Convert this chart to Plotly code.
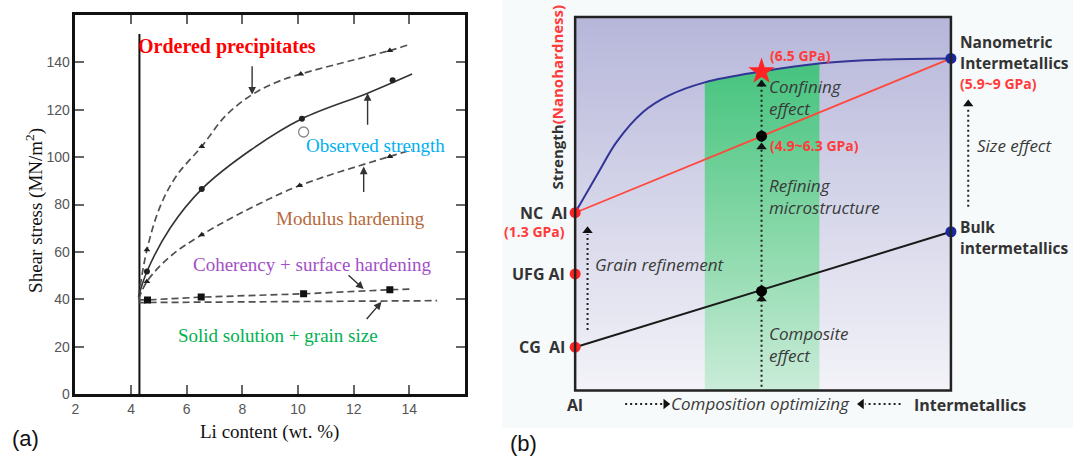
import plotly.graph_objects as go

# ---------------- Panel (a) data ----------------
li_ordered_curve = [4.27, 4.57, 5.05, 5.65, 6.54, 7.4, 8.35, 9.2, 10.1, 13.3, 14.0]
tau_ordered_curve = [41, 60.9, 79.3, 92.4, 104.5, 117.5, 126.4, 131.5, 135.1, 145, 147.5]
li_ordered_pts = [4.57, 6.54, 10.1, 13.3]
tau_ordered_pts = [60.9, 104.5, 135.1, 145]

li_obs_curve = [4.27, 4.57, 5.4, 6.54, 8.3, 10.14, 12.5, 14.1]
tau_obs_curve = [41.1, 51.7, 70, 86.5, 103, 116.2, 127, 135.1]
li_obs_pts = [4.57, 6.54, 10.14, 13.4]
tau_obs_pts = [51.7, 86.5, 116.2, 132.5]

li_open = [10.2]
tau_open = [110.6]

li_mod_curve = [4.27, 4.57, 5.4, 6.54, 8.3, 10.06, 13.3, 14.1]
tau_mod_curve = [40, 47.5, 58, 67.2, 78.5, 88, 100.3, 103.1]
li_mod_pts = [4.57, 6.54, 10.06, 13.3]
tau_mod_pts = [47.5, 67.2, 88, 100.3]

li_coh_curve = [4.27, 4.59, 6.52, 10.2, 13.3, 14.1]
tau_coh_curve = [39.7, 39.7, 40.9, 42.3, 44, 44.3]
li_coh_pts = [4.59, 6.52, 10.2, 13.3]
tau_coh_pts = [39.7, 40.9, 42.3, 44]

li_ss = [4.27, 15.0]
tau_ss = [38.6, 39.4]

li_boundary = [4.3, 4.3]
tau_boundary = [0, 152]

# arrows: (tail_x, tail_y, tip_x, tip_y)
arrows_a = [
    (8.35, 139, 8.35, 126.4),
    (12.5, 113, 12.5, 127),
    (12.36, 84.6, 12.36, 96),
    (11.76, 50.7, 12.36, 44.3),
    (12.42, 31, 13.0, 38.9),
]

labels_a = [
    ("<b>Ordered precipitates</b>", 4.19, 146.6, "#ff0000", 20),
    ("Observed strength", 10.21, 104.7, "#00b0f0", 19),
    ("Modulus hardening", 9.15, 74.3, "#b5693a", 19),
    ("Coherency + surface hardening", 6.16, 54.5, "#a24fc8", 19),
    ("Solid solution + grain size", 5.6, 24.5, "#00b050", 19),
]

x_ticks_a = [2, 4, 6, 8, 10, 12, 14]
y_ticks_a = [0, 20, 40, 60, 80, 100, 120, 140]

# ---------------- Panel (b) data (normalised schematic units) ----------------
al_y = {"NC": 0.476, "UFG": 0.312, "CG": 0.116}
inter_y = {"Nano": 0.889, "Bulk": 0.425}
mid_x = 0.496

red_line_x = [0, 1]
red_line_y = [0.476, 0.889]
black_line_x = [0, 1]
black_line_y = [0.116, 0.425]

blue_x = [0, 0.06, 0.11, 0.18, 0.25, 0.345, 0.496, 0.654, 0.82, 1]
blue_y = [0.476, 0.58, 0.665, 0.745, 0.79, 0.825, 0.854, 0.876, 0.886, 0.889]

band_x = [0.345, 0.345, 0.42, 0.496, 0.57, 0.65, 0.65]
band_y = [0, 0.825, 0.842, 0.854, 0.866, 0.876, 0]

mid_dots_y = [0.681, 0.266]
star_y = [0.854]

mid_arrow_y = [0.01, 0.83]
mid_tips_y = [0.256, 0.663, 0.831]
grain_arrow = (0.033, 0.162, 0.439)
size_arrow = (1.046, 0.492, 0.778)
bottom_y = -0.036
left_arrow = (0.133, 0.252)
right_arrow = (0.866, 0.751)

H = 466  # the page is photographed slightly squeezed vertically

fig = go.Figure()

# ---------- panel (a) traces ----------
dash_style = dict(color="#505050", width=1.7, dash="7px,4px")
fig.add_trace(go.Scatter(x=li_boundary, y=tau_boundary, mode="lines",
                         line=dict(color="#111111", width=2), xaxis="x", yaxis="y"))
fig.add_trace(go.Scatter(x=li_ss, y=tau_ss, mode="lines", line=dash_style, xaxis="x", yaxis="y"))
fig.add_trace(go.Scatter(x=li_coh_curve, y=tau_coh_curve, mode="lines", line=dash_style, xaxis="x", yaxis="y"))
fig.add_trace(go.Scatter(x=li_mod_curve, y=tau_mod_curve, mode="lines", line_shape="spline",
                         line=dash_style, xaxis="x", yaxis="y"))
fig.add_trace(go.Scatter(x=li_ordered_curve, y=tau_ordered_curve, mode="lines", line_shape="spline",
                         line=dash_style, xaxis="x", yaxis="y"))
fig.add_trace(go.Scatter(x=li_obs_curve, y=tau_obs_curve, mode="lines", line_shape="spline",
                         line=dict(color="#333333", width=1.6), xaxis="x", yaxis="y"))
fig.add_trace(go.Scatter(x=li_ordered_pts, y=tau_ordered_pts, mode="markers",
                         marker=dict(symbol="triangle-up", size=6, color="#222"), xaxis="x", yaxis="y"))
fig.add_trace(go.Scatter(x=li_mod_pts, y=tau_mod_pts, mode="markers",
                         marker=dict(symbol="triangle-up", size=6, color="#222"), xaxis="x", yaxis="y"))
fig.add_trace(go.Scatter(x=li_obs_pts, y=tau_obs_pts, mode="markers",
                         marker=dict(symbol="circle", size=6, color="#222"), xaxis="x", yaxis="y"))
fig.add_trace(go.Scatter(x=li_coh_pts, y=tau_coh_pts, mode="markers",
                         marker=dict(symbol="square", size=7, color="#111"), xaxis="x", yaxis="y"))
fig.add_trace(go.Scatter(x=li_open, y=tau_open, mode="markers",
                         marker=dict(symbol="circle-open", size=10, color="#888", line=dict(width=1.3)),
                         xaxis="x", yaxis="y"))

annotations = []
for tx, ty, hx, hy in arrows_a:
    annotations.append(dict(x=hx, y=hy, ax=tx, ay=ty, xref="x", yref="y", axref="x", ayref="y",
                            text="", showarrow=True, arrowhead=2, arrowsize=1.1, arrowwidth=1.4,
                            arrowcolor="#333"))
for txt, lx, ly, col, fs in labels_a:
    annotations.append(dict(x=lx, y=ly, xref="x", yref="y", text=txt, showarrow=False,
                            xanchor="left", yanchor="middle",
                            font=dict(family="Liberation Serif", size=fs, color=col)))
annotations.append(dict(x=266.7 / 1073, y=(458 - 431.7) / 458, xref="paper", yref="paper",
                        text="Li content (wt. %)", showarrow=False, xanchor="center", yanchor="middle",
                        font=dict(family="Liberation Serif", size=19, color="#111")))
annotations.append(dict(x=31 / 1073, y=(458 - 210) / 458, xref="paper", yref="paper",
                        text="Shear stress (MN/m<sup>2</sup>)", showarrow=False, textangle=-90,
                        xanchor="center", yanchor="middle",
                        font=dict(family="Liberation Serif", size=19, color="#111")))
annotations.append(dict(x=22 / 1073, y=(458 - 438) / 458, xref="paper", yref="paper",
                        text="(a)", showarrow=False, xanchor="center", yanchor="middle",
                        font=dict(family="Liberation Sans", size=22, color="#111")))
annotations.append(dict(x=521 / 1073, y=(458 - 443) / 458, xref="paper", yref="paper",
                        text="(b)", showarrow=False, xanchor="center", yanchor="middle",
                        font=dict(family="Liberation Sans", size=22, color="#111")))

# ---------- panel (b) traces ----------
fig.add_trace(go.Scatter(x=[0, 1, 1, 0, 0], y=[0, 0, 1, 1, 0], mode="lines", fill="toself",
                         line=dict(width=0),
                         fillgradient=dict(type="vertical", start=0, stop=1,
                                           colorscale=[[0, "rgb(244,244,249)"], [0.5, "rgb(214,214,234)"],
                                                       [1, "rgb(182,182,218)"]]),
                         xaxis="x2", yaxis="y2"))
fig.add_trace(go.Scatter(x=band_x, y=band_y, mode="lines", fill="toself", line=dict(width=0),
                         fillgradient=dict(type="vertical", start=0, stop=0.86,
                                           colorscale=[[0, "rgb(205,237,219)"], [0.5, "rgb(135,216,168)"],
                                                       [1, "rgb(72,196,128)"]]),
                         xaxis="x2", yaxis="y2"))

dot_line = dict(color="#222222", width=2, dash="2px,3px")
fig.add_trace(go.Scatter(x=[mid_x, mid_x], y=mid_arrow_y, mode="lines", line=dot_line, xaxis="x2", yaxis="y2"))
gx, gy0, gy1 = grain_arrow
fig.add_trace(go.Scatter(x=[gx, gx], y=[gy0, gy1 - 0.02], mode="lines", line=dot_line, xaxis="x2", yaxis="y2"))
sx, sy0, sy1 = size_arrow
fig.add_trace(go.Scatter(x=[sx, sx], y=[sy0, sy1 - 0.02], mode="lines", line=dot_line, xaxis="x2", yaxis="y2"))
fig.add_trace(go.Scatter(x=[left_arrow[0], left_arrow[1] - 0.02], y=[bottom_y, bottom_y], mode="lines",
                         line=dot_line, xaxis="x2", yaxis="y2"))
fig.add_trace(go.Scatter(x=[right_arrow[0], right_arrow[1] + 0.02], y=[bottom_y, bottom_y], mode="lines",
                         line=dot_line, xaxis="x2", yaxis="y2"))

up_tips_x = [mid_x] * len(mid_tips_y) + [gx, sx]
up_tips_y = [t - 0.011 for t in mid_tips_y] + [gy1 - 0.011, sy1 - 0.011]
fig.add_trace(go.Scatter(x=up_tips_x, y=up_tips_y, mode="markers",
                         marker=dict(symbol="triangle-up", size=9, color="#111"), xaxis="x2", yaxis="y2"))
fig.add_trace(go.Scatter(x=[left_arrow[1] - 0.011], y=[bottom_y], mode="markers",
                         marker=dict(symbol="triangle-right", size=9, color="#111"), xaxis="x2", yaxis="y2"))
fig.add_trace(go.Scatter(x=[right_arrow[1] + 0.011], y=[bottom_y], mode="markers",
                         marker=dict(symbol="triangle-left", size=9, color="#111"), xaxis="x2", yaxis="y2"))

fig.add_trace(go.Scatter(x=black_line_x, y=black_line_y, mode="lines",
                         line=dict(color="#1a1a1a", width=2), xaxis="x2", yaxis="y2"))
fig.add_trace(go.Scatter(x=red_line_x, y=red_line_y, mode="lines",
                         line=dict(color="rgb(255,72,60)", width=1.8), xaxis="x2", yaxis="y2"))
fig.add_trace(go.Scatter(x=blue_x, y=blue_y, mode="lines", line_shape="spline",
                         line=dict(color="rgb(50,52,150)", width=2), xaxis="x2", yaxis="y2"))

fig.add_trace(go.Scatter(x=[0, 0, 0], y=[al_y["NC"], al_y["UFG"], al_y["CG"]], mode="markers",
                         marker=dict(size=11, color="rgb(255,35,35)"), cliponaxis=False,
                         xaxis="x2", yaxis="y2"))
fig.add_trace(go.Scatter(x=[1, 1], y=[inter_y["Nano"], inter_y["Bulk"]], mode="markers",
                         marker=dict(size=11, color="rgb(28,40,160)"), xaxis="x2", yaxis="y2"))
fig.add_trace(go.Scatter(x=[mid_x, mid_x], y=mid_dots_y, mode="markers",
                         marker=dict(size=11, color="#000"), xaxis="x2", yaxis="y2"))
fig.add_trace(go.Scatter(x=[mid_x], y=star_y, mode="markers",
                         marker=dict(symbol="star", size=20, color="rgb(255,35,35)"), xaxis="x2", yaxis="y2"))

FB = "Open Sans"
dark = "#333333"
red = "#ff3b3b"
ital = "#3a3a3a"
labels_b = [
    ("<b>NC  Al</b>", -0.0175, 0.476, "right", dark, 16),
    ("<b>(1.3 GPa)</b>", -0.022, 0.425, "right", red, 14),
    ("<b>UFG Al</b>", -0.022, 0.312, "right", dark, 16),
    ("<b>CG  Al</b>", -0.022, 0.116, "right", dark, 16),
    ("<b>Al</b>", 0.0, -0.039, "center", dark, 16),
    ("<b>Intermetallics</b>", 1.052, -0.039, "center", dark, 16),
    ("<i>Composition optimizing</i>", 0.25, -0.036, "left", ital, 17),
    ("<b>Nanometric</b>", 1.018, 0.934, "left", dark, 15.5),
    ("<b>Intermetallics</b>", 1.018, 0.876, "left", dark, 15.5),
    ("<b>(5.9~9 GPa)</b>", 1.018, 0.822, "left", red, 14),
    ("<i>Size effect</i>", 1.064, 0.655, "left", ital, 17),
    ("<b>Bulk</b>", 1.018, 0.439, "left", dark, 15.5),
    ("<b>intermetallics</b>", 1.018, 0.381, "left", dark, 15.5),
    ("<b>(6.5 GPa)</b>", 0.513, 0.896, "left", red, 14),
    ("<i>Confining<br>effect</i>", 0.511, 0.7845, "left", ital, 17),
    ("<b>(4.9~6.3 GPa)</b>", 0.513, 0.657, "left", red, 14),
    ("<i>Refining<br>microstructure</i>", 0.511, 0.519, "left", ital, 17),
    ("<i>Grain refinement</i>", 0.047, 0.338, "left", ital, 17),
    ("<i>Composite<br>effect</i>", 0.511, 0.123, "left", ital, 17),
]
for txt, lx, ly, anc, col, fs in labels_b:
    annotations.append(dict(x=lx, y=ly, xref="x2", yref="y2", text=txt, showarrow=False, align="left",
                            xanchor=anc, yanchor="middle", font=dict(family=FB, size=fs, color=col)))
annotations.append(dict(x=-0.0485, y=0.787, xref="x2", yref="y2", textangle=-90,
                        text="<b>Strength<span style='color:#ff3b3b'>(Nanohardness)</span></b>",
                        showarrow=False, xanchor="center", yanchor="middle",
                        font=dict(family=FB, size=15, color=dark)))

shapes = [
    dict(type="rect", xref="paper", yref="paper", x0=500 / 1073, x1=1, y0=(458 - 428) / 458, y1=1,
         fillcolor="rgb(247,250,250)", line=dict(width=0), layer="below"),
    dict(type="rect", xref="x2", yref="y2", x0=0, x1=1, y0=0, y1=1,
         line=dict(color="#222", width=2.5), fillcolor="rgba(0,0,0,0)", layer="above"),
]

axis_common = dict(showgrid=False, zeroline=False, showline=True, linecolor="#111", linewidth=2.5,
                   mirror="ticks", ticks="inside", ticklen=9, tickwidth=1.5, tickcolor="#666",
                   tickfont=dict(family="Liberation Sans", size=14, color="#555"))

fig.update_layout(
    width=1073, height=H, autosize=False, margin=dict(l=0, r=0, t=0, b=0),
    paper_bgcolor="white", plot_bgcolor="rgba(0,0,0,0)", showlegend=False,
    xaxis=dict(domain=[71.7 / 1073, 462.7 / 1073], range=[2, 16], tickvals=x_ticks_a,
               anchor="y", **axis_common),
    yaxis=dict(domain=[(458 - 394) / 458, (458 - 15) / 458], range=[0, 160], tickvals=y_ticks_a,
               anchor="x", **axis_common),
    xaxis2=dict(domain=[504.3 / 1073, 1.0], range=[-0.1829, 1.3248], visible=False, anchor="y2"),
    yaxis2=dict(domain=[0, 1], range=[-0.1807, 1.0455], visible=False, anchor="x2"),
    annotations=annotations, shapes=shapes,
)

fig.write_html("out.html", config={"displayModeBar": False, "responsive": False},
               post_script="document.body.style.margin='0px';document.body.style.overflow='hidden';")
